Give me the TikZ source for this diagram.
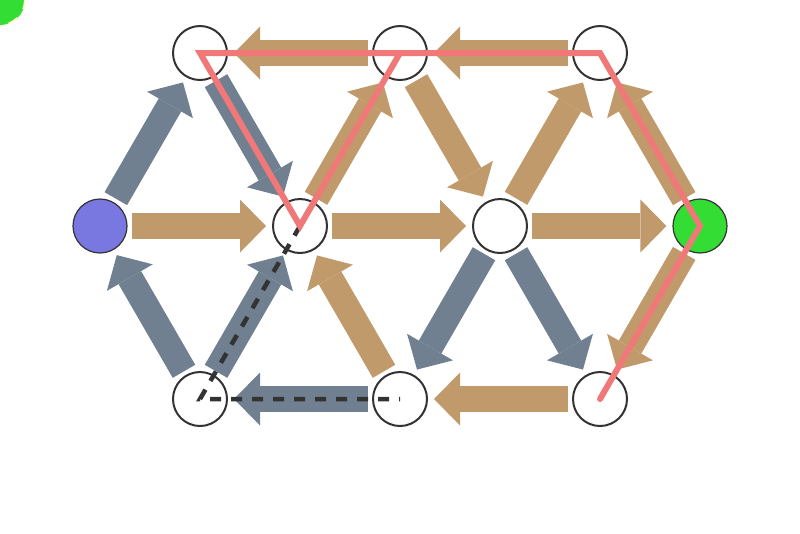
\documentclass[tikz,border=0pt]{standalone}
\usetikzlibrary{arrows.meta}

\definecolor{tancol}{HTML}{C19A6B}
\definecolor{slatecol}{HTML}{708090}
\definecolor{startcol}{HTML}{7878E0}
\definecolor{goalcol}{HTML}{33DD33}
\definecolor{pathcol}{HTML}{F07878}
\definecolor{darkcol}{HTML}{333333}
\definecolor{palecol}{HTML}{FFFFCC}

\tikzset{
    state/.style={circle, draw=darkcol, line width=0.02cm, fill=white,
        minimum size=0.54cm, inner sep=0pt},
    flow/.style={line width=0.26cm,
        -{Triangle[width=0.53cm,length=0.26cm,line width=0pt]},
        shorten <=0.04cm, shorten >=0.06cm},
    tanflow/.style={flow, draw=tancol},
    grayflow/.style={flow, draw=slatecol},
}

\begin{document}
\begin{tikzpicture}
    \useasboundingbox (0,0) rectangle (8,-5.33);
    \node[circle, fill=goalcol, draw=palecol, dashed, line width=0.02cm,
        minimum size=0.5cm, inner sep=0pt] (mark) at (0,0) {};

    \node[state] (t1) at (2,-0.53) {};
    \node[state] (t2) at (4,-0.53) {};
    \node[state] (t3) at (6,-0.53) {};
    \node[state, fill=startcol, line width=0.012cm] (m1) at (1,-2.26) {};
    \node[state] (m2) at (3,-2.26) {};
    \node[state] (m3) at (5,-2.26) {};
    \node[state, fill=goalcol, line width=0.012cm] (m4) at (7,-2.26) {};
    \node[state] (b1) at (2,-3.99) {};
    \node[state] (b2) at (4,-3.99) {};
    \node[state] (b3) at (6,-3.99) {};

    \draw[tanflow] (t2)--(t1);
    \draw[tanflow] (t3)--(t2);
    \draw[tanflow] (m2)--(t2);
    \draw[tanflow] (t2)--(m3);
    \draw[tanflow] (m3)--(t3);
    \draw[tanflow] (m4)--(t3);
    \draw[tanflow] (m1)--(m2);
    \draw[tanflow] (m2)--(m3);
    \draw[tanflow] (m3)--(m4);
    \draw[tanflow] (b2)--(m2);
    \draw[tanflow] (m4)--(b3);
    \draw[tanflow] (b3)--(b2);

    \draw[grayflow] (m1)--(t1);
    \draw[grayflow] (t1)--(m2);
    \draw[grayflow] (b1)--(m1);
    \draw[grayflow] (b1)--(m2);
    \draw[grayflow] (m3)--(b2);
    \draw[grayflow] (m3)--(b3);
    \draw[grayflow] (b2)--(b1);

    \draw[darkcol, line width=0.045cm, dash pattern=on 0.11cm off 0.1cm]
        (m2.center)--(b1.center)--(b2.center);
    \draw[pathcol, line width=0.06cm, line cap=round]
        (b3.center)--(m4.center)--(t3.center)--(t1.center)--(m2.center)--(t2.center);
\end{tikzpicture}
\end{document}
